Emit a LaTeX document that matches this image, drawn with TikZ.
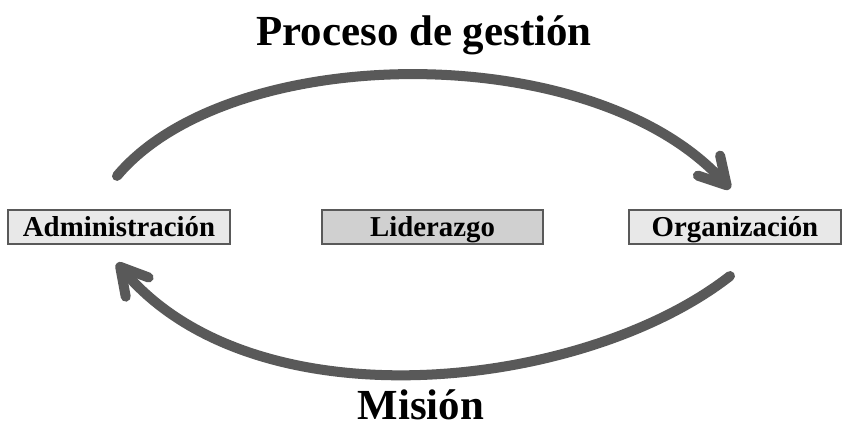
\documentclass[tikz,border=0pt]{standalone}
\usepackage{fontspec}
\setmainfont{Liberation Serif}
\usetikzlibrary{arrows.meta}
\definecolor{trazo}{HTML}{595959}
\definecolor{claro}{HTML}{E8E8E8}
\definecolor{medio}{HTML}{D0D0D0}

\begin{document}
\begin{tikzpicture}
      \useasboundingbox (0,0) rectangle (8.42,4.40);
      \tikzstyle{caja}=[draw=trazo, line width=0.6pt, fill=claro, inner sep=0pt,
                        minimum height=0.34cm, text height=7pt, text depth=1.6pt,
                        font=\fontsize{8.2}{10}\selectfont\bfseries]
      \tikzstyle{ciclo}=[draw=trazo, line width=2.85pt, line cap=round,
                         -{Straight Barb[length=7.5pt,width=8.5pt,round]}]
      \tikzstyle{rotulo}=[font=\fontsize{12.2}{14}\selectfont\bfseries]
      \node [rotulo] (titulo) at (4.24,4.05) {Proceso de gestión};
      \node [rotulo] (mision) at (4.21,0.35) {Misión};
      \node [caja, minimum width=2.22cm] (admin) at (1.19,2.13) {Administración};
      \node [caja, minimum width=2.21cm, fill=medio] (lider) at (4.325,2.13) {Liderazgo};
      \node [caja, minimum width=2.12cm] (organiz) at (7.35,2.13) {Organización};
      \draw [ciclo] ([xshift=-0.02cm,yshift=0.33cm]admin.north)
            to[out=50,in=132,out distance=1.76cm,in distance=2.04cm]
            ([xshift=-0.05cm,yshift=0.20cm]organiz.north);
      \draw [ciclo] ([xshift=-0.05cm,yshift=-0.31cm]organiz.south)
            to[out=218,in=-50,out distance=1.85cm,in distance=2.15cm]
            ([xshift=-0.02cm,yshift=-0.18cm]admin.south);
\end{tikzpicture}
\end{document}
